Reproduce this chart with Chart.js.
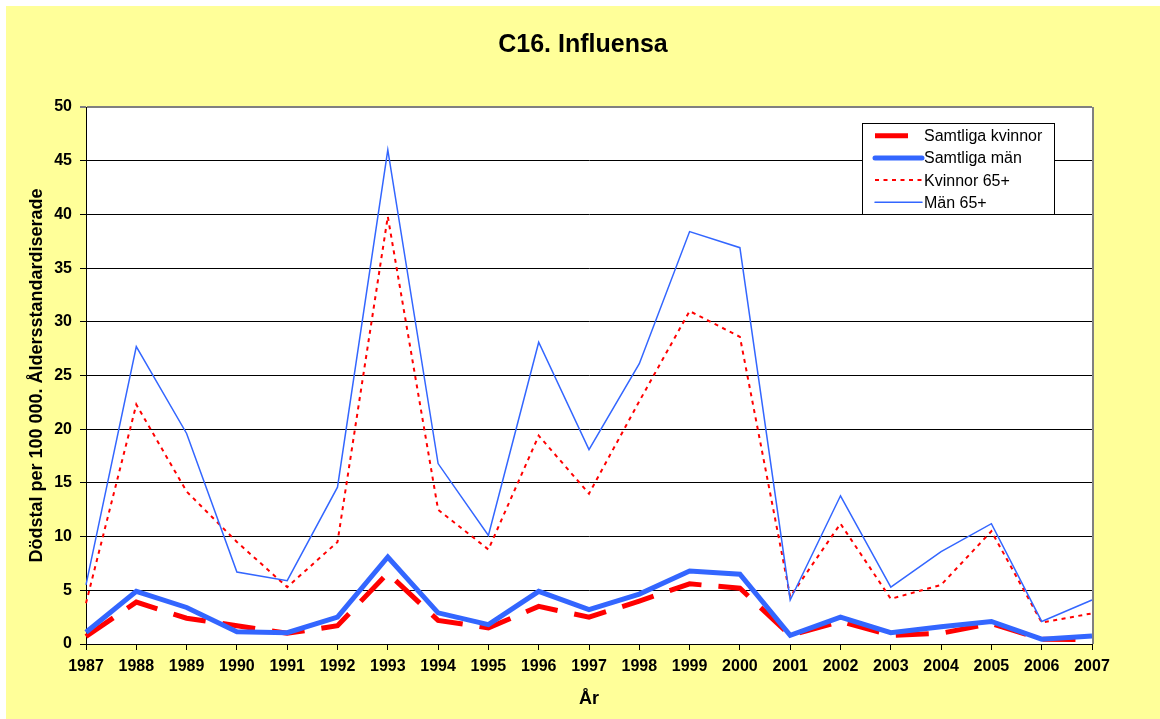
<!DOCTYPE html>
<html>
<head>
<meta charset="utf-8">
<script src="https://cdn.jsdelivr.net/npm/chart.js@4/dist/chart.umd.min.js"></script>
<style>
  body { margin: 0; background: #ffffff; }
  #wrap { position: absolute; left: 6px; top: 6px; width: 1154px; height: 713px; }
</style>
</head>
<body>
<div id="wrap"><canvas id="chart" width="1154" height="713"></canvas></div>
<script>
// values
const years = ['1987', '1988', '1989', '1990', '1991', '1992', '1993', '1994', '1995', '1996', '1997',
               '1998', '1999', '2000', '2001', '2002', '2003', '2004', '2005', '2006', '2007'];
const samtligaKvinnor = [0.7, 3.9, 2.4, 1.7, 1.0, 1.7, 6.6, 2.2, 1.5, 3.5, 2.5, 4.0, 5.6, 5.2, 0.8, 2.1, 0.8, 1.0, 1.9, 0.45, 0.4];
const samtligaMan = [1.1, 4.9, 3.4, 1.15, 1.05, 2.5, 8.1, 2.9, 1.8, 4.9, 3.2, 4.65, 6.8, 6.5, 0.8, 2.5, 1.05, 1.6, 2.1, 0.45, 0.75];
const kvinnor65 = [3.8, 22.3, 14.2, 9.5, 5.3, 9.5, 39.8, 12.5, 8.8, 19.4, 14.0, 22.6, 31.0, 28.6, 4.4, 11.2, 4.2, 5.5, 10.5, 2.0, 2.85];
const man65 = [5.5, 27.7, 19.6, 6.7, 5.9, 14.6, 46.0, 16.8, 10.1, 28.1, 18.1, 26.1, 38.4, 36.9, 4.1, 13.8, 5.3, 8.6, 11.2, 2.1, 4.1];

const FONT = "Arial, 'Liberation Sans', sans-serif";
const RED = '#ff0000';
const BLUE = '#3366ff';

const datasets = [
  { label: 'Samtliga kvinnor', data: samtligaKvinnor, borderColor: RED, borderWidth: 5, borderDash: [33, 17], order: 4 },
  { label: 'Samtliga män', data: samtligaMan, borderColor: BLUE, borderWidth: 5, order: 3 },
  { label: 'Kvinnor 65+', data: kvinnor65, borderColor: RED, borderWidth: 2, borderDash: [4, 4.5], order: 2 },
  { label: 'Män 65+', data: man65, borderColor: BLUE, borderWidth: 1.5, order: 1 }
];

const bgPlugin = {
  id: 'bg',
  beforeDraw(chart) {
    const ctx = chart.ctx, a = chart.chartArea;
    ctx.save();
    ctx.fillStyle = '#ffff99';
    ctx.fillRect(0, 0, chart.width, chart.height);
    ctx.fillStyle = '#ffffff';
    ctx.fillRect(a.left, a.top, a.right - a.left, a.bottom - a.top);
    ctx.restore();
  },
  afterDraw(chart) {
    const ctx = chart.ctx, a = chart.chartArea;
    ctx.save();
    // grey right border of the plot
    ctx.strokeStyle = '#808080';
    ctx.lineWidth = 2;
    ctx.beginPath();
    ctx.moveTo(a.right + 1, a.top);
    ctx.lineTo(a.right + 1, a.bottom);
    ctx.stroke();

    // legend box
    const bx = 856, by = 117, bw = 192, bh = 91;
    ctx.fillStyle = '#ffffff';
    ctx.fillRect(bx, by, bw, bh);
    ctx.strokeStyle = '#000000';
    ctx.lineWidth = 1;
    ctx.strokeRect(bx + 0.5, by + 0.5, bw, bh);
    ctx.font = '16px ' + FONT;
    ctx.textBaseline = 'middle';
    ctx.fillStyle = '#000000';
    datasets.forEach((ds, i) => {
      const y = 129.7 + i * 22.2;
      ctx.strokeStyle = ds.borderColor;
      ctx.lineWidth = ds.borderWidth;
      ctx.lineCap = ds.borderDash ? 'butt' : 'round';
      ctx.setLineDash(ds.borderDash || []);
      ctx.beginPath();
      ctx.moveTo(869, y);
      ctx.lineTo(916, y);
      ctx.stroke();
      ctx.setLineDash([]);
      ctx.fillText(ds.label, 918, y + 1);
    });
    ctx.restore();
  }
};

new Chart(document.getElementById('chart'), {
  type: 'line',
  data: {
    labels: years,
    datasets: datasets.map(ds => Object.assign({ pointRadius: 0, fill: false, tension: 0, clip: false }, ds))
  },
  options: {
    responsive: false,
    animation: false,
    layout: { padding: 0 },
    plugins: {
      legend: { display: false },
      tooltip: { enabled: false },
      title: {
        display: true,
        text: 'C16. Influensa',
        color: '#000000',
        font: { family: FONT, size: 25, weight: 'bold' },
        padding: { top: 24.5, bottom: 46.5 }
      }
    },
    scales: {
      x: {
        offset: false,
        afterFit(scale) { scale.height = 75; },
        grid: { drawOnChartArea: false, color: '#000000', tickLength: 6 },
        border: { color: '#000000', width: 1 },
        ticks: { color: '#000000', font: { family: FONT, size: 16, weight: 'bold' }, maxRotation: 0, autoSkip: false, padding: 7 },
        title: { display: true, text: 'År', color: '#000000', font: { family: FONT, size: 18, weight: 'bold' }, padding: { top: 0, bottom: 9 } }
      },
      y: {
        min: 0,
        max: 50,
        afterFit(scale) { scale.width = 80; },
        grid: {
          color: ctx => (ctx.tick && ctx.tick.value === 50 ? '#808080' : '#000000'),
          lineWidth: ctx => (ctx.tick && ctx.tick.value === 50 ? 2 : 1),
          tickLength: 6
        },
        border: { color: '#000000', width: 1 },
        ticks: { stepSize: 5, color: '#000000', font: { family: FONT, size: 16, weight: 'bold' }, padding: 8 },
        title: { display: true, text: 'Dödstal per 100 000. Åldersstandardiserade', color: '#000000', font: { family: FONT, size: 18, weight: 'bold' }, padding: { top: 20, bottom: 0 } }
      },
      // empty right-hand margin so the title stays centred on the whole picture
      yRight: {
        position: 'right',
        display: true,
        afterFit(scale) { scale.width = 68; },
        grid: { display: false },
        border: { display: false },
        ticks: { display: false }
      }
    }
  },
  plugins: [bgPlugin]
});
</script>
</body>
</html>
